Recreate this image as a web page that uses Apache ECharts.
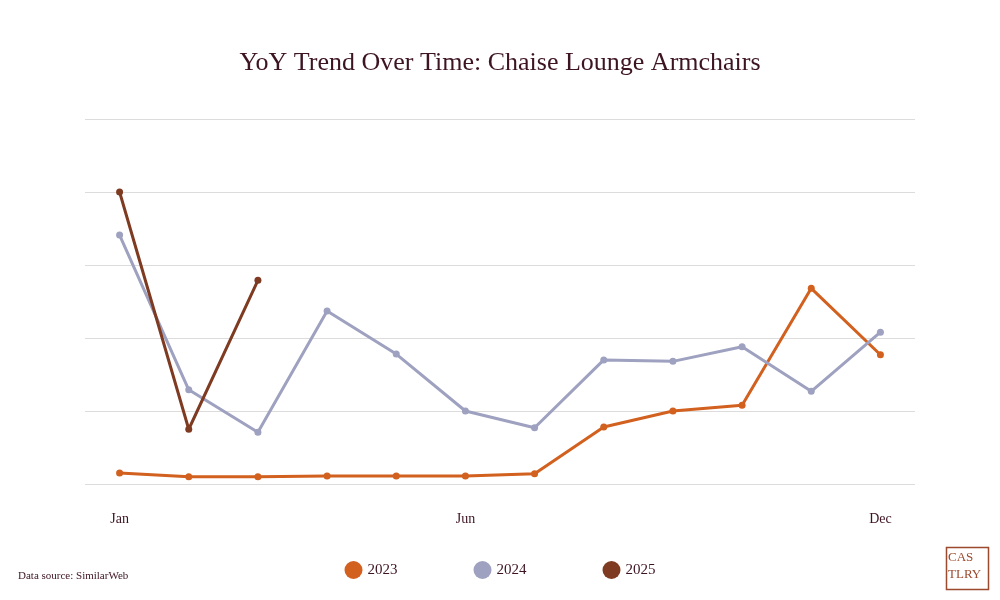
<!DOCTYPE html>
<html>
<head>
<meta charset="utf-8">
<script src="https://cdn.jsdelivr.net/npm/echarts@6/dist/echarts.min.js"></script>
<style>html,body{margin:0;padding:0;background:#fff}#main{width:1000px;height:600px}</style>
</head>
<body>
<div id="main"></div>
<script>
var months = ['Jan','Feb','Mar','Apr','May','Jun','Jul','Aug','Sep','Oct','Nov','Dec'];
var shownLabels = ['Jan','Jun','Dec'];
var data2023 = [0.15,0.10,0.10,0.11,0.11,0.11,0.14,0.78,1.00,1.08,2.68,1.77];
var data2024 = [3.41,1.29,0.71,2.37,1.78,1.00,0.77,1.70,1.68,1.88,1.27,2.08];
var data2025 = [4.00,0.75,2.79];

function line(name, color, data){
	return {
		name: name, type: 'line', data: data,
		symbol: 'circle', symbolSize: 7,
		lineStyle: {color: color, width: 3},
		itemStyle: {color: color}
	};
}

var myChart = echarts.init(document.getElementById('main'));
myChart.setOption({
	animation: false,
	title: {
		text: 'YoY Trend Over Time: Chaise Lounge Armchairs',
		left: 'center', top: 45,
		textStyle: {fontFamily: 'Liberation Serif', fontSize: 26, fontWeight: 'normal', color: '#3d1422'}
	},
	grid: {left: 85, right: 85, top: 119, bottom: 116},
	xAxis: {
		type: 'category', data: months, boundaryGap: true,
		axisLine: {show: false}, axisTick: {show: false},
		axisLabel: {
			margin: 28, fontFamily: 'Liberation Serif', fontSize: 14, color: '#3d1422',
			interval: 0,
			formatter: function(v){ return shownLabels.indexOf(v) >= 0 ? v : ''; }
		}
	},
	yAxis: {
		type: 'value', min: 0, max: 5, interval: 1,
		axisLabel: {show: false},
		axisLine: {show: false}, axisTick: {show: false},
		splitLine: {lineStyle: {color: '#dcdcdc'}}
	},
	legend: {
		bottom: 16, left: 'center', itemGap: 76,
		icon: 'circle', itemWidth: 18, itemHeight: 18,
		textStyle: {fontFamily: 'Liberation Serif', fontSize: 15, color: '#3d1422'},
		data: ['2023','2024','2025']
	},
	graphic: [
		{type: 'text', left: 18, top: 571, style: {text: 'Data source: SimilarWeb', font: '11px "Liberation Serif"', fill: '#3d1422'}},
		{type: 'rect', left: 944, top: 545, shape: {width: 42, height: 42}, style: {fill: 'none', stroke: '#9b4a2e', lineWidth: 1.5}},
		{type: 'text', left: 948, top: 549, style: {text: 'CAS\nTLRY', font: '13px "Liberation Serif"', fill: '#9b4a2e', lineHeight: 17}}
	],
	series: [
		line('2023', '#d2601e', data2023),
		line('2024', '#9ea1bf', data2024),
		line('2025', '#7e3b22', data2025)
	]
});
</script>
</body>
</html>
